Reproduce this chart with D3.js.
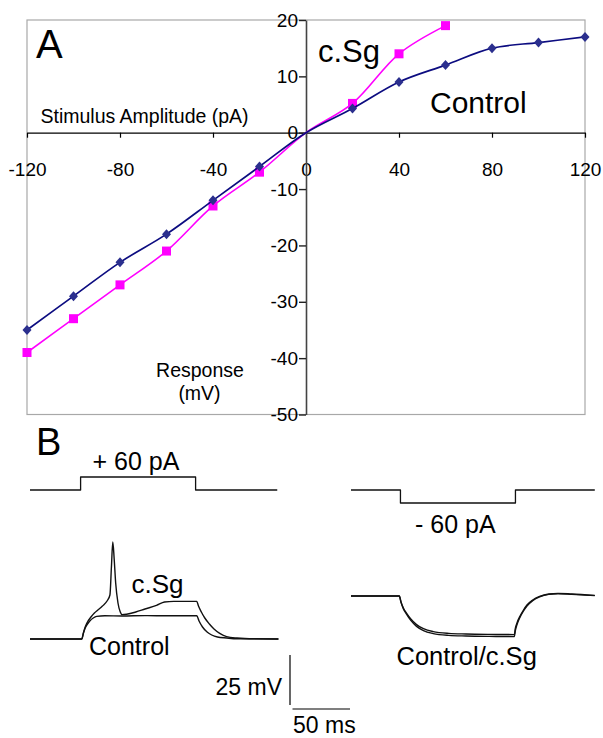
<!DOCTYPE html>
<html>
<head>
<meta charset="utf-8">
<script src="https://cdn.jsdelivr.net/npm/d3@7/dist/d3.min.js"></script>
<style>
  html, body { margin: 0; padding: 0; background: #fff; }
  svg { display: block; font-family: "Liberation Sans", Arial, sans-serif; }
</style>
</head>
<body>
<svg id="chart" width="603" height="738"></svg>
<script>
// ---------- Panel A data ----------
const stimulusAmp = [-120, -100, -80, -60, -40, -20, 0, 20, 40, 60, 80, 100, 120];
const controlResp = [-35, -29, -23, -18, -12, -6, 0, 4.3, 9, 12, 15, 16, 17];
const csgStim = [-120, -100, -80, -60, -40, -20, 0, 20, 40, 60];
const csgResp = [-39, -33, -27, -21, -13, -7, 0, 5.2, 14, 19];
const xTicks = [-120, -80, -40, 0, 40, 80, 120];
const yTicks = [20, 10, 0, -10, -20, -30, -40, -50];

// ---------- Panel B data (time ms, current pA / voltage mV) ----------
const stimPosT = [0, 44, 44, 144, 144, 215];
const stimPosI = [0, 0, 60, 60, 0, 0];
const stimNegT = [0, 43, 43, 143, 143, 212];
const stimNegI = [0, 0, -60, -60, 0, 0];

const ctrlPosT = [0, 45, 46.5, 48, 50, 52, 55, 58, 65, 80, 100, 120, 145, 147, 150, 154, 158, 163, 171, 180, 216];
const ctrlPosV = [0, 0, 3, 5.5, 7.5, 9, 10.5, 11.3, 11.6, 11.5, 11.7, 11.6, 11.6, 9, 6, 3.5, 2, 1, 0.5, 0.1, 0];

const csgPosT = [0, 45, 46.5, 48, 50, 53, 56, 59, 63, 67, 69.5, 70.8, 72, 73.2, 74.5, 76.5, 78.5, 80, 84, 92, 100, 110, 117, 125, 145, 146.5, 149, 152, 156, 160, 165, 171, 180, 195, 216];
const csgPosV = [0, 0, 3.2, 6, 8.5, 11, 13, 14.5, 16.5, 19, 22, 36, 48.5, 40, 28, 18, 13.5, 12.2, 12.4, 13.5, 15, 16.8, 18.5, 18.8, 18.8, 16.5, 13.5, 10.5, 7.5, 5, 2.8, 1.2, 0.5, 0.1, 0];

const ctrlNegT = [0, 42, 43.5, 45.5, 48.4, 52, 57, 63, 71.5, 85, 100, 120, 142, 143, 144.5, 147, 150, 153, 158, 164, 172, 180, 192, 212];
const ctrlNegV = [0, 0, -3, -6, -8.7, -11.5, -14.3, -16.3, -17.8, -18.7, -19, -19.2, -19.3, -16, -13.2, -10, -7, -4.5, -2, -0.2, 1.0, 1.3, 1.0, 0.3];
const csgNegV  = [0, 0, -3.2, -6.3, -9.2, -12.2, -15.2, -17.3, -18.8, -19.7, -20, -20.2, -20.3, -17, -14, -10.6, -7.5, -5, -2.3, -0.4, 0.8, 1.1, 0.8, 0.2];

const svg = d3.select("#chart");
const fmt = d => String(d);

// ---------- Panel A ----------
const x = d3.scaleLinear().domain([-120, 120]).range([27, 585]);
const y = d3.scaleLinear().domain([-50, 20]).range([414.5, 20]);

svg.append("rect")
  .attr("x", x(-120)).attr("y", y(20))
  .attr("width", x(120) - x(-120)).attr("height", y(-50) - y(20))
  .attr("fill", "none").attr("stroke", "#a8a8a8").attr("stroke-width", 1.2);

const xAxis = svg.append("g")
  .attr("transform", `translate(0,${y(0)})`)
  .call(d3.axisBottom(x).tickValues(xTicks).tickFormat(fmt).tickSize(5).tickSizeOuter(0).tickPadding(25));
xAxis.select(".domain").attr("stroke", "#000").attr("stroke-width", 1.2);
xAxis.selectAll(".tick line").attr("stroke", "#000").attr("stroke-width", 1.2);
xAxis.selectAll("text").attr("font-size", 19).attr("fill", "#000")
  .attr("font-family", "Liberation Sans, Arial, sans-serif");

const yAxis = svg.append("g")
  .attr("transform", `translate(${x(0)},0)`)
  .call(d3.axisLeft(y).tickValues(yTicks).tickFormat(fmt).tickSize(7).tickSizeOuter(0).tickPadding(1));
yAxis.select(".domain").attr("stroke", "#444").attr("stroke-width", 1.6);
yAxis.selectAll(".tick line").attr("stroke", "#222").attr("stroke-width", 1.4);
yAxis.selectAll("text").attr("font-size", 19).attr("fill", "#000")
  .attr("font-family", "Liberation Sans, Arial, sans-serif");

const curveLine = d3.line().curve(d3.curveCatmullRom.alpha(0.5))
  .x(d => x(d[0])).y(d => y(d[1]));

const csgData = csgStim.map((s, i) => [s, csgResp[i]]);
const ctrlData = stimulusAmp.map((s, i) => [s, controlResp[i]]);

svg.append("path").datum(csgData).attr("d", curveLine)
  .attr("fill", "none").attr("stroke", "#ff00ff").attr("stroke-width", 1.6);
svg.selectAll(".sq").data(csgData.filter(d => d[0] !== 0)).enter().append("rect")
  .attr("x", d => x(d[0]) - 4.5).attr("y", d => y(d[1]) - 4.5)
  .attr("width", 9).attr("height", 9).attr("fill", "#ff00ff");

svg.append("path").datum(ctrlData).attr("d", curveLine)
  .attr("fill", "none").attr("stroke", "#0c0c80").attr("stroke-width", 1.7);
svg.selectAll(".dm").data(ctrlData.filter(d => d[0] !== 0)).enter().append("path")
  .attr("d", d => { const cx = x(d[0]), cy = y(d[1]);
    return `M${cx},${cy - 5}L${cx + 4.5},${cy}L${cx},${cy + 5}L${cx - 4.5},${cy}Z`; })
  .attr("fill", "#2b2f8e");

function label(txt, px, py, size, anchor) {
  svg.append("text").attr("x", px).attr("y", py).attr("font-size", size)
    .attr("text-anchor", anchor || "start").attr("fill", "#000").text(txt);
}
label("A", 36, 58, 40);
label("c.Sg", 318, 62, 31);
label("Control", 430, 113, 30);
label("Stimulus Amplitude (pA)", 40.5, 123, 19.5);
label("Response", 200, 377, 19.5, "middle");
label("(mV)", 199.5, 400, 19.5, "middle");

// ---------- Panel B ----------
label("B", 36, 455, 38);

const tL = d3.scaleLinear().domain([0, 215]).range([30, 277.25]);
const tR = d3.scaleLinear().domain([0, 212]).range([351, 594.8]);
const iL = d3.scaleLinear().domain([0, 60]).range([490, 477]);
const iR = d3.scaleLinear().domain([0, 60]).range([490, 477]);
const vL = d3.scaleLinear().domain([0, 25]).range([639, 589]);
const vR = d3.scaleLinear().domain([0, 25]).range([596, 546]);

function trace(ts, vs, xs, ys, curve, w) {
  const pts = ts.map((t, i) => [t, vs[i]]);
  svg.append("path").datum(pts)
    .attr("d", d3.line().curve(curve).x(d => xs(d[0])).y(d => ys(d[1])))
    .attr("fill", "none").attr("stroke", "#111").attr("stroke-width", w)
    .attr("stroke-linejoin", "round");
}
trace(stimPosT, stimPosI, tL, iL, d3.curveLinear, 1.3);
trace(stimNegT, stimNegI, tR, iR, d3.curveLinear, 1.3);
trace(ctrlPosT, ctrlPosV, tL, vL, d3.curveMonotoneX, 1.4);
trace(csgPosT, csgPosV, tL, vL, d3.curveMonotoneX, 1.4);
trace(ctrlNegT, ctrlNegV, tR, vR, d3.curveMonotoneX, 1.4);
trace(ctrlNegT, csgNegV, tR, vR, d3.curveMonotoneX, 1.4);

label("+ 60 pA", 92.5, 470, 25);
label("- 60 pA", 415, 533, 25);
label("c.Sg", 131.5, 593, 26);
label("Control", 89, 655, 25);
label("Control/c.Sg", 396.5, 665, 25.5);

// scale bars
svg.append("line").attr("x1", 290).attr("x2", 290).attr("y1", vL(0) + 16).attr("y2", vL(0) + 16 + (vL(0) - vL(25)))
  .attr("stroke", "#000").attr("stroke-width", 1.2);
svg.append("line").attr("x1", 292.5).attr("x2", 292.5 + (tL(50) - tL(0))).attr("y1", 709).attr("y2", 709)
  .attr("stroke", "#000").attr("stroke-width", 1.2);
label("25 mV", 282, 695, 23, "end");
label("50 ms", 293, 733, 23);
</script>
</body>
</html>
